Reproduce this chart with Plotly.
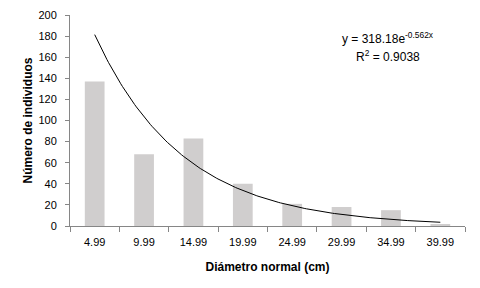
import numpy as np
import plotly.graph_objects as go

categories = ["4.99", "9.99", "14.99", "19.99", "24.99", "29.99", "34.99", "39.99"]
counts = [137, 68, 83, 40, 21, 18, 15, 1]
# Exponential trendline coefficients as printed on the chart
trend_a = 318.18
trend_b = -0.562
y_ticks = [0, 20, 40, 60, 80, 100, 120, 140, 160, 180, 200]

idx = np.arange(1, len(categories) + 1)
xs = np.linspace(1, len(categories), 200)
ys = trend_a * np.exp(trend_b * xs)

font = "Liberation Sans"
axis_color = "#868686"

# page body has an 8px default margin; compensate so the plot area lands where the reference's does
OFF = 8
FW, FH = 480 - OFF, 288 - OFF
L, R, T, B = 70 - OFF, 15, 15 - OFF, 62

fig = go.Figure()
fig.add_trace(go.Bar(x=idx, y=counts, marker=dict(color="#D0CECE", line=dict(width=0)),
                     width=0.4, showlegend=False))
fig.add_trace(go.Scatter(x=xs, y=ys, mode="lines", line=dict(color="black", width=1),
                         showlegend=False))

fig.update_layout(
    width=FW, height=FH,
    margin=dict(l=L, r=R, t=T, b=B),
    paper_bgcolor="white", plot_bgcolor="white",
    font=dict(family=font, size=11, color="black"),
    xaxis=dict(range=[0.5, len(categories) + 0.5], tickmode="array",
               tickvals=list(idx), ticktext=categories, ticks="",
               ticklabelstandoff=6,
               showline=True, linecolor=axis_color, linewidth=1,
               showgrid=False, zeroline=False, automargin=False,
               minor=dict(tickmode="linear", tick0=0.5, dtick=1, ticks="outside",
                          ticklen=5, tickcolor=axis_color, showgrid=False),
               title=dict(text="<b>Diámetro normal (cm)</b>", font=dict(size=12), standoff=15),
               tickfont=dict(size=11)),
    yaxis=dict(range=[0, 200], tickmode="array", tickvals=y_ticks,
               ticks="outside", ticklen=4, tickcolor=axis_color,
               ticklabelstandoff=6,
               showline=True, linecolor=axis_color, linewidth=1,
               showgrid=False, zeroline=False, automargin=False,
               title=dict(text="<b>Número de individuos</b>", font=dict(size=12), standoff=3),
               tickfont=dict(size=11)),
    annotations=[
        dict(x=388, y=38, xref="paper", yref="paper", showarrow=False,
             text=f"y = {trend_a}e<sup>{trend_b}x</sup>", font=dict(size=12),
             xanchor="center", yanchor="middle"),
        dict(x=388, y=56, xref="paper", yref="paper", showarrow=False,
             text="R<sup>2</sup> = 0.9038", font=dict(size=12),
             xanchor="center", yanchor="middle"),
    ],
)
# convert annotation pixel positions (page coords) to paper coords
W, H = FW - L - R, FH - T - B
for a in fig.layout.annotations:
    px, py = a.x - OFF, a.y - OFF
    a.x = (px - L) / W
    a.y = 1 - (py - T) / H

fig.write_html("out.html")
